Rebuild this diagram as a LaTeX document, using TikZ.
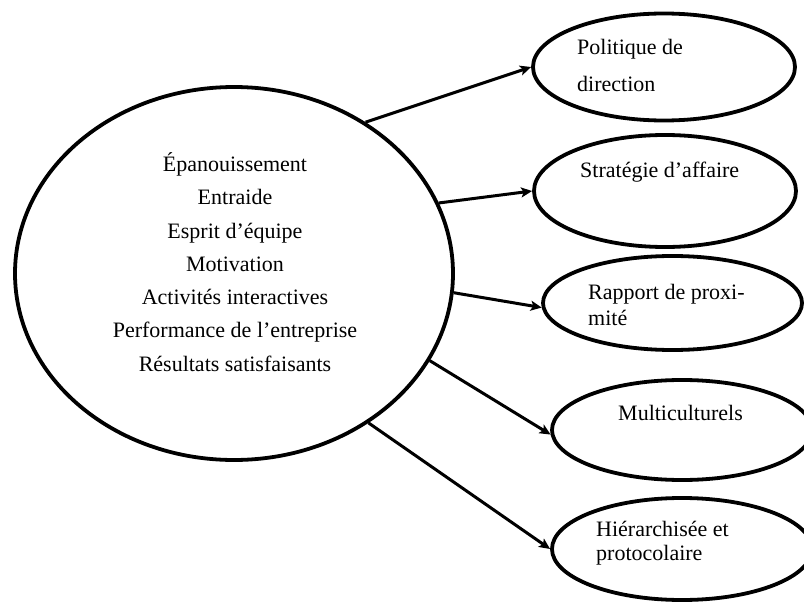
\documentclass[tikz,border=0pt]{standalone}
\usepackage{fontspec}
\setmainfont{Liberation Serif}
\usetikzlibrary{arrows.meta,shapes.geometric}
\begin{document}
\begin{tikzpicture}[x=1pt,y=-1pt,
  bubble/.style={draw, line width=3.8pt, ellipse, inner sep=0pt},
  link/.style={line width=3pt, -{Stealth[length=11pt,width=10pt,inset=2.5pt]}},
  txt/.style={inner sep=0pt, font=\fontsize{22}{26}\selectfont}]
\useasboundingbox (0,0) rectangle (804,602);
\clip (0,0) rectangle (804,602);

% central ellipse and the five outcomes
\node[bubble, minimum width=438pt, minimum height=373pt] (core) at (234,273.5) {};
\node[bubble, minimum width=262pt, minimum height=107pt] (pol) at (664,67) {};
\node[bubble, minimum width=262pt, minimum height=112pt] (strat) at (665,191) {};
\node[bubble, minimum width=259pt, minimum height=94pt] (prox) at (672.5,303) {};
\node[bubble, minimum width=260pt, minimum height=100pt] (multi) at (682,430) {};
\node[bubble, minimum width=260pt, minimum height=102pt] (hier) at (682,549) {};

% texts
\node[txt, align=center, font=\fontsize{22}{33.3}\selectfont] (coretext) at (235,262)
  {Épanouissement\\Entraide\\Esprit d’équipe\\Motivation\\Activités interactives\\Performance de l’entreprise\\Résultats satisfaisants};
\node[txt, anchor=west, align=left, font=\fontsize{22}{37}\selectfont] (poltext) at (577,65) {Politique de\\direction};
\node[txt, anchor=west] (strattext) at (580,172) {Stratégie d’affaire};
\node[txt, anchor=west, align=left, font=\fontsize{22}{26}\selectfont] (proxtext) at (588,305) {Rapport de proxi-\\mité};
\node[txt, anchor=west] (multitext) at (618,413) {Multiculturels};
\node[txt, anchor=west, align=left, font=\fontsize{22}{24}\selectfont] (hiertext) at (596,543) {Hiérarchisée et\\protocolaire};

% connectors
\draw[link] (core.49) -- (pol.west);
\draw[link] (core.19) -- (strat.west);
\draw[link] (core.-5) -- (prox.182);
\draw[link] (core.-24) -- (multi.182);
\draw[link] (core.-48) -- (hier.west);
\end{tikzpicture}
\end{document}
